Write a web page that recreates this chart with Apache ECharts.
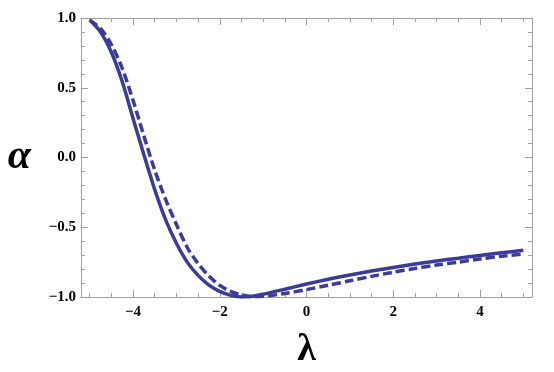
<!DOCTYPE html>
<html>
<head>
<meta charset="utf-8">
<script src="https://cdn.jsdelivr.net/npm/echarts@6/dist/echarts.min.js"></script>
<style>
  html, body { margin: 0; padding: 0; background: #fff; }
  #chart { width: 554px; height: 372px; }
</style>
</head>
<body>
<div id="chart"></div>
<script>
// values
const lambdaVals = [-5, -4.75, -4.5, -4.25, -4, -3.75, -3.5, -3.25, -3, -2.75, -2.5, -2.25, -2, -1.75,
  -1.5, -1.25, -1, -0.5, 0, 0.5, 1, 1.5, 2, 2.5, 3, 3.5, 4, 4.5, 5]
const alphaSolid = [0.985, 0.90, 0.755, 0.545, 0.28, 0.02, -0.23, -0.445, -0.615, -0.75, -0.845, -0.915, -0.96, -0.988,
  -1.0, -0.995, -0.98, -0.944, -0.907, -0.873, -0.842, -0.814, -0.788, -0.764, -0.742, -0.722, -0.702, -0.683, -0.665]
const alphaDashed = [0.985, 0.925, 0.81, 0.64, 0.41, 0.155, -0.09, -0.30, -0.48, -0.645, -0.76, -0.85, -0.917, -0.96,
  -0.985, -0.998, -0.995, -0.975, -0.947, -0.916, -0.884, -0.852, -0.822, -0.795, -0.771, -0.75, -0.727, -0.708, -0.692]

const xMajor = [-4, -2, 0, 2, 4]
const xMinor = [-5, -4.5, -3.5, -3, -2.5, -1.5, -1, -0.5, 0.5, 1, 1.5, 2.5, 3, 3.5, 4.5, 5]

const lineColor = '#3b3b98'
const frameColor = '#a0a0a0'
const serif = '"Liberation Serif", "DejaVu Serif", serif'

function fmt(v, digits) {
  let s = Math.abs(v).toFixed(digits)
  return (v < 0 ? '\u2212' : '') + s
}

function xAxisDef(position, ticks, len, withLabels) {
  let ax = {
    type: 'value',
    min: -5.2,
    max: 5.2,
    position: position,
    axisLine: { show: true, onZero: false, lineStyle: { color: frameColor, width: 1 } },
    splitLine: { show: false },
    axisTick: { show: true, inside: true, length: len, customValues: ticks, lineStyle: { color: frameColor } },
    axisLabel: { show: false }
  }
  if (withLabels) {
    ax.axisLabel = {
      show: true,
      customValues: xMajor,
      formatter: v => fmt(v, 0),
      color: '#000',
      fontFamily: serif,
      fontWeight: 'bold',
      fontSize: 15,
      margin: 8
    }
    ax.name = '\u03bb'
    ax.nameLocation = 'middle'
    ax.nameGap = 34
    ax.nameTextStyle = { fontFamily: serif, fontWeight: 'bold', fontSize: 38, color: '#000' }
  }
  return ax
}

function yAxisDef(position, withLabels) {
  let ax = {
    type: 'value',
    min: -1,
    max: 1,
    interval: 0.5,
    position: position,
    axisLine: { show: true, onZero: false, lineStyle: { color: frameColor, width: 1 } },
    splitLine: { show: false },
    axisTick: { show: true, inside: true, length: 7, lineStyle: { color: frameColor } },
    minorTick: { show: true, splitNumber: 5, length: 4, lineStyle: { color: frameColor } },
    axisLabel: { show: false }
  }
  if (withLabels) {
    ax.axisLabel = {
      show: true,
      formatter: v => fmt(v, 1),
      color: '#000',
      fontFamily: serif,
      fontWeight: 'bold',
      fontSize: 15,
      margin: 5
    }
    ax.name = '\u03b1'
    ax.nameLocation = 'middle'
    ax.nameRotate = 0
    ax.nameGap = 50
    ax.nameTextStyle = { fontFamily: serif, fontWeight: 'bold', fontStyle: 'italic', fontSize: 42, color: '#000' }
  }
  return ax
}

let chart = echarts.init(document.getElementById('chart'), null, { renderer: 'canvas' })
chart.setOption({
  animation: false,
  backgroundColor: '#fff',
  grid: { left: 81, right: 22, top: 18, bottom: 75, containLabel: false, outerBoundsMode: 'none' },
  xAxis: [
    xAxisDef('bottom', xMajor, 7, true),
    xAxisDef('bottom', xMinor, 4, false),
    xAxisDef('top', xMajor, 7, false),
    xAxisDef('top', xMinor, 4, false)
  ],
  yAxis: [
    yAxisDef('left', true),
    yAxisDef('right', false)
  ],
  series: [
    {
      type: 'line',
      data: lambdaVals.map((l, i) => [l, alphaSolid[i]]),
      smooth: 0.3,
      showSymbol: false,
      lineStyle: { color: lineColor, width: 3.5 }
    },
    {
      type: 'line',
      data: lambdaVals.map((l, i) => [l, alphaDashed[i]]),
      smooth: 0.3,
      showSymbol: false,
      lineStyle: { color: lineColor, width: 3.5, type: [9, 4] }
    }
  ]
})
</script>
</body>
</html>
